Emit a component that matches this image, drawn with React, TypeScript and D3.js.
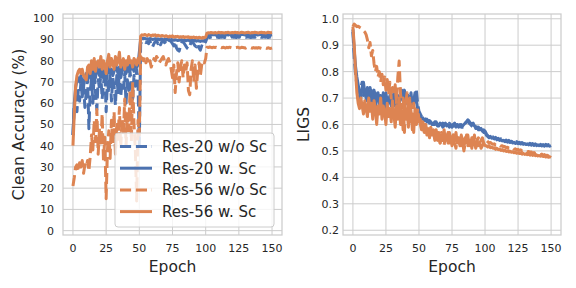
import React, { useEffect, useRef } from 'react';
import * as d3 from 'd3';

// legend names, in drawing order
const SERIES = ['Res-20 w/o Sc', 'Res-20 w. Sc', 'Res-56 w/o Sc', 'Res-56 w. Sc'];
const COLORS = ['#4c72b0', '#4c72b0', '#dd8452', '#dd8452'];
const DASHED = [true, false, true, false];

const EPOCH_TICKS = [0, 25, 50, 75, 100, 125, 150];
const ACC_TICKS = [0, 10, 20, 30, 40, 50, 60, 70, 80, 90, 100];
const LIGS_TICKS = [0.2, 0.3, 0.4, 0.5, 0.6, 0.7, 0.8, 0.9, 1.0];

// clean accuracy (%), one value per epoch 0..150
const ACC_R20_WO = [
  45, 60, 63, 56, 66, 61, 70, 63, 68, 58, 65,
  72, 48, 66, 71, 60, 74, 65, 57, 71, 67,
  73, 62, 69, 75, 56, 70, 66, 74, 61, 72,
  68, 59, 73, 65, 76, 63, 70, 67, 74, 60,
  71, 66, 75, 69, 62, 73, 68, 76, 70, 40,
  88, 89, 89.5, 89, 88.5, 89, 88, 89.5, 87, 86.5,
  88, 89, 89.5, 88, 89, 87.5, 89, 89.5, 88.5, 89,
  89, 88, 89.5, 89, 88, 87, 89, 86, 85, 84.5,
  87, 88.5, 89, 88, 87, 86, 85.5, 87, 88.5, 89,
  88, 87, 86.5, 88, 86, 85, 87, 86.5, 88, 89,
  91.0, 91.2, 90.9, 91.1, 91.3, 90.8, 91.0, 91.2, 91.1, 90.9,
  91.2, 91.0, 91.3, 90.9, 91.1, 91.0, 91.2, 90.8, 91.1, 91.3,
  91.0, 91.1, 90.9, 91.2, 91.0, 91.3, 91.1, 90.9, 91.2, 91.0,
  91.1, 91.3, 91.0, 90.9, 91.2, 91.1, 91.0, 91.3, 91.1, 90.9,
  91.2, 91.0, 91.1, 91.3, 91.0, 91.2, 90.9, 91.1, 91.2, 91.0,
];
const ACC_R20_W = [
  45, 60, 67, 71, 72, 70, 73, 70, 68, 72, 74,
  70, 75, 73, 71, 76, 74, 72, 77, 75, 73,
  78, 74, 72, 76, 70, 75, 78, 74, 76, 73,
  75, 79, 76, 74, 77, 72, 75, 78, 76, 74,
  77, 75, 79, 76, 78, 75, 80, 77, 78, 84,
  90, 90.5, 90.3, 90.6, 90.2, 90.4, 90.1, 90.5, 90.3, 90,
  90.2, 90.4, 90, 90.3, 89.9, 90.1, 90.3, 89.8, 90, 90.2,
  89.9, 90.1, 89.7, 90, 89.8, 89.6, 89.9, 89.7, 89.5, 89.8,
  89.6, 89.9, 89.5, 89.7, 89.4, 89.6, 89.8, 89.3, 89.5, 89.7,
  89.4, 89.6, 89.2, 89.5, 89.3, 89.1, 89.4, 89.2, 89.5, 89.3,
  92.1, 92.3, 92.2, 92.0, 92.3, 92.2, 92.4, 92.1, 92.2, 92.3,
  92.0, 92.2, 92.4, 92.1, 92.3, 92.2, 92.1, 92.4, 92.2, 92.3,
  92.1, 92.2, 92.4, 92.3, 92.1, 92.2, 92.3, 92.4, 92.2, 92.1,
  92.3, 92.2, 92.4, 92.1, 92.3, 92.2, 92.4, 92.3, 92.1, 92.2,
  92.4, 92.3, 92.2, 92.1, 92.3, 92.4, 92.2, 92.3, 92.1, 92.2,
];
const ACC_R56_WO = [
  21, 25, 30, 31, 28, 32, 29, 33, 27, 31, 30,
  33, 28, 35, 45, 38, 52, 42, 57, 36, 48,
  40, 55, 33, 44, 15, 38, 47, 34, 52, 41,
  56, 36, 50, 43, 58, 39, 53, 45, 62, 40,
  55, 47, 66, 42, 70, 50, 38, 14, 52, 45,
  82, 81, 80, 82, 79, 81, 78, 80, 77, 79,
  81, 80, 82, 81, 79, 80, 81, 82, 80, 78,
  80, 81, 79, 76, 72, 78, 65, 74, 79, 70,
  77, 80, 72, 78, 75, 79, 66, 64, 76, 80,
  70, 78, 67, 75, 79, 73, 78, 80, 79, 81,
  86.4, 86.2, 86.5, 86.3, 86.1, 86.4, 86.2, 86.3, 86.0, 86.2,
  86.4, 86.1, 86.3, 86.2, 86.0, 86.3, 86.1, 86.4, 86.2, 86.0,
  86.3, 86.1, 86.2, 86.4, 86.1, 86.0, 86.3, 86.2, 86.1, 85.9,
  86.2, 86.0, 86.3, 86.1, 85.9, 86.2, 86.0, 86.1, 85.9, 86.2,
  86.0, 85.8, 86.1, 85.9, 86.0, 85.8, 86.1, 85.9, 85.8, 86.0,
];
const ACC_R56_W = [
  40, 55, 68, 73, 75, 76, 74, 76, 73, 72, 71,
  77, 78, 74, 80, 76, 81, 75, 79, 80, 77,
  82, 76, 80, 78, 74, 80, 83, 77, 81, 79,
  76, 82, 78, 80, 84, 77, 79, 81, 76, 80,
  78, 82, 79, 80, 77, 81, 80, 78, 81, 79,
  91.5, 92.2, 92, 92.4, 92.1, 91.8, 92.3, 92, 91.7, 92.1,
  91.9, 92.2, 91.6, 92, 91.8, 91.5, 91.9, 91.7, 91.4, 91.8,
  91.5, 91.2, 91.6, 91.3, 91.7, 91.1, 91.4, 91.2, 91.5, 91,
  91.3, 91.1, 91.4, 90.9, 91.2, 91, 91.3, 90.8, 91.1, 90.9,
  91.2, 90.8, 91, 90.7, 91.1, 90.9, 90.6, 91, 90.8, 91.2,
  93.0, 93.2, 93.1, 93.3, 93.2, 93.0, 93.3, 93.1, 93.2, 93.4,
  93.1, 93.3, 93.2, 93.0, 93.3, 93.2, 93.4, 93.1, 93.2, 93.3,
  93.1, 93.4, 93.2, 93.3, 93.1, 93.2, 93.4, 93.3, 93.1, 93.2,
  93.3, 93.4, 93.2, 93.1, 93.3, 93.2, 93.4, 93.3, 93.2, 93.1,
  93.3, 93.4, 93.2, 93.3, 93.1, 93.2, 93.4, 93.3, 93.2, 93.3,
];

// LIGS, one value per epoch 0..150
const LIGS_R20_WO = [
  0.95, 0.85, 0.79, 0.75, 0.72, 0.7, 0.74, 0.76, 0.71, 0.73, 0.69,
  0.72, 0.7, 0.74, 0.68, 0.71, 0.73, 0.67, 0.7, 0.72, 0.68,
  0.71, 0.69, 0.66, 0.7, 0.72, 0.68, 0.7, 0.67, 0.71, 0.69,
  0.72, 0.68, 0.7, 0.66, 0.69, 0.71, 0.73, 0.7, 0.72, 0.69,
  0.71, 0.68, 0.7, 0.72, 0.67, 0.69, 0.71, 0.73, 0.68, 0.65,
  0.64, 0.63, 0.62, 0.625, 0.615, 0.62, 0.61, 0.615, 0.605, 0.61,
  0.6, 0.61, 0.605, 0.595, 0.6, 0.61, 0.6, 0.605, 0.595, 0.6,
  0.6, 0.59, 0.605, 0.595, 0.59, 0.6, 0.585, 0.595, 0.6, 0.59,
  0.595, 0.6, 0.59, 0.595, 0.605, 0.61, 0.615, 0.605, 0.6, 0.595,
  0.59, 0.6, 0.585, 0.59, 0.58, 0.585, 0.575, 0.58, 0.57, 0.575,
  0.565, 0.558, 0.553, 0.557, 0.55, 0.553, 0.547, 0.551, 0.545, 0.548,
  0.543, 0.546, 0.54, 0.544, 0.538, 0.541, 0.536, 0.54, 0.534, 0.537,
  0.533, 0.536, 0.531, 0.535, 0.529, 0.533, 0.528, 0.532, 0.527, 0.531,
  0.526, 0.53, 0.525, 0.529, 0.524, 0.528, 0.523, 0.527, 0.522, 0.526,
  0.522, 0.525, 0.521, 0.524, 0.52, 0.525, 0.521, 0.524, 0.52, 0.522,
];
const LIGS_R20_W = [
  0.96, 0.88, 0.82, 0.78, 0.75, 0.72, 0.7, 0.74, 0.76, 0.72, 0.7,
  0.74, 0.71, 0.69, 0.73, 0.7, 0.68, 0.72, 0.69, 0.71, 0.67,
  0.7, 0.68, 0.72, 0.69, 0.66, 0.7, 0.68, 0.71, 0.67, 0.69,
  0.7, 0.67, 0.69, 0.71, 0.68, 0.7, 0.72, 0.69, 0.73, 0.7,
  0.68, 0.71, 0.69, 0.67, 0.7, 0.68, 0.72, 0.69, 0.66, 0.64,
  0.63, 0.62, 0.625, 0.615, 0.62, 0.61, 0.615, 0.605, 0.61, 0.6,
  0.605, 0.6, 0.61, 0.6, 0.595, 0.605, 0.6, 0.59, 0.6, 0.605,
  0.595, 0.6, 0.59, 0.6, 0.595, 0.6, 0.605, 0.59, 0.6, 0.595,
  0.6, 0.59, 0.595, 0.6, 0.605, 0.61, 0.618, 0.612, 0.605, 0.6,
  0.605, 0.595, 0.59, 0.585, 0.59, 0.58, 0.585, 0.575, 0.58, 0.57,
  0.56, 0.555, 0.55, 0.555, 0.548, 0.55, 0.545, 0.548, 0.542, 0.545,
  0.54, 0.543, 0.538, 0.54, 0.535, 0.538, 0.533, 0.536, 0.532, 0.534,
  0.53, 0.533, 0.528, 0.532, 0.527, 0.53, 0.526, 0.529, 0.525, 0.528,
  0.524, 0.527, 0.523, 0.526, 0.522, 0.525, 0.521, 0.524, 0.52, 0.523,
  0.52, 0.522, 0.519, 0.521, 0.518, 0.522, 0.519, 0.521, 0.518, 0.52,
];
const LIGS_R56_WO = [
  0.97, 0.98, 0.975, 0.97, 0.972, 0.968, 0.965, 0.96, 0.955, 0.95, 0.94,
  0.92, 0.89, 0.91, 0.86, 0.88, 0.83, 0.8, 0.82, 0.78, 0.8,
  0.76, 0.79, 0.75, 0.78, 0.73, 0.77, 0.72, 0.76, 0.7, 0.74,
  0.71, 0.75, 0.68, 0.78, 0.84, 0.72, 0.66, 0.7, 0.57, 0.68,
  0.72, 0.62, 0.7, 0.65, 0.58, 0.68, 0.63, 0.6, 0.66, 0.62,
  0.62, 0.59, 0.61, 0.58, 0.6, 0.57, 0.59, 0.56, 0.58, 0.57,
  0.58, 0.55, 0.57, 0.54, 0.56, 0.53, 0.57, 0.55, 0.52, 0.56,
  0.54, 0.57, 0.53, 0.55, 0.52, 0.56, 0.53, 0.51, 0.55, 0.53,
  0.55, 0.52, 0.54, 0.5, 0.53, 0.56, 0.52, 0.54, 0.51, 0.55,
  0.53, 0.56, 0.52, 0.54, 0.55, 0.53, 0.54, 0.55, 0.53, 0.54,
  0.54, 0.535, 0.53, 0.532, 0.528, 0.525, 0.527, 0.522, 0.524, 0.52,
  0.522, 0.518, 0.52, 0.515, 0.517, 0.512, 0.514, 0.51, 0.512, 0.508,
  0.51, 0.506, 0.508, 0.504, 0.506, 0.502, 0.504, 0.5, 0.502, 0.498,
  0.5, 0.496, 0.498, 0.494, 0.496, 0.492, 0.494, 0.49, 0.492, 0.488,
  0.49, 0.486, 0.488, 0.484, 0.486, 0.482, 0.484, 0.48, 0.482, 0.478,
];
const LIGS_R56_W = [
  0.97, 0.9, 0.8, 0.72, 0.68, 0.66, 0.7, 0.67, 0.64, 0.69, 0.66,
  0.63, 0.7, 0.65, 0.68, 0.62, 0.69, 0.66, 0.6, 0.67, 0.64,
  0.7, 0.62, 0.67, 0.65, 0.6, 0.68, 0.63, 0.66, 0.61, 0.69,
  0.64, 0.59, 0.67, 0.62, 0.7, 0.6, 0.65, 0.58, 0.68, 0.62,
  0.66, 0.59, 0.69, 0.61, 0.64, 0.57, 0.66, 0.6, 0.63, 0.62,
  0.6, 0.58, 0.59, 0.57, 0.6, 0.56, 0.58, 0.55, 0.59, 0.56,
  0.57, 0.54, 0.58, 0.55, 0.57, 0.53, 0.56, 0.55, 0.58, 0.54,
  0.56, 0.53, 0.57, 0.55, 0.52, 0.56, 0.54, 0.57, 0.53, 0.55,
  0.52, 0.56, 0.54, 0.51, 0.55, 0.53, 0.56, 0.52, 0.54, 0.51,
  0.55, 0.53, 0.51, 0.54, 0.52, 0.53, 0.51, 0.52, 0.53, 0.52,
  0.52, 0.515, 0.52, 0.512, 0.515, 0.51, 0.512, 0.506, 0.51, 0.505,
  0.507, 0.502, 0.505, 0.5, 0.503, 0.498, 0.501, 0.496, 0.499, 0.495,
  0.497, 0.493, 0.496, 0.491, 0.494, 0.49, 0.492, 0.488, 0.491, 0.487,
  0.489, 0.486, 0.488, 0.484, 0.487, 0.483, 0.486, 0.482, 0.485, 0.481,
  0.483, 0.48, 0.482, 0.479, 0.481, 0.477, 0.48, 0.476, 0.478, 0.475,
];

const GRID = '#cccccc';
const TEXT = '#262626';
const FONT = 'DejaVu Sans, sans-serif';

function drawPanel(svg, opts) {
  const { left, right, top, bottom, yDomain, yTicks, yFmt, series, yLabel, yLabelX, tickGap, id } = opts;

  const x = d3.scaleLinear().domain([-7.5, 157.5]).range([left, right]);
  const y = d3.scaleLinear().domain(yDomain).range([bottom, top]);

  const g = svg.append('g');

  // grid
  g.selectAll('line.gx').data(EPOCH_TICKS).enter().append('line')
    .attr('x1', d => x(d)).attr('x2', d => x(d))
    .attr('y1', top).attr('y2', bottom)
    .attr('stroke', GRID).attr('stroke-width', 1);
  g.selectAll('line.gy').data(yTicks).enter().append('line')
    .attr('x1', left).attr('x2', right)
    .attr('y1', d => y(d)).attr('y2', d => y(d))
    .attr('stroke', GRID).attr('stroke-width', 1);

  // tick labels
  g.selectAll('text.tx').data(EPOCH_TICKS).enter().append('text')
    .attr('x', d => x(d)).attr('y', bottom + 17)
    .attr('text-anchor', 'middle')
    .style('font-size', '11px').style('font-family', FONT).attr('fill', TEXT)
    .text(d => d);
  g.selectAll('text.ty').data(yTicks).enter().append('text')
    .attr('x', left - tickGap).attr('y', d => y(d) + 4)
    .attr('text-anchor', 'end')
    .style('font-size', '11px').style('font-family', FONT).attr('fill', TEXT)
    .text(yFmt);

  // clip for lines
  svg.append('clipPath').attr('id', id)
    .append('rect').attr('x', left).attr('y', top)
    .attr('width', right - left).attr('height', bottom - top);

  const line = d3.line().x((d, i) => x(i)).y(d => y(d));

  const lines = g.append('g').attr('clip-path', `url(#${id})`);
  series.forEach((vals, k) => {
    lines.append('path')
      .datum(vals)
      .attr('d', line)
      .attr('fill', 'none')
      .attr('stroke', COLORS[k])
      .attr('stroke-width', 3)
      .attr('stroke-linejoin', 'round')
      .attr('stroke-dasharray', DASHED[k] ? '11.1,4.8' : null);
  });

  // frame
  g.append('rect')
    .attr('x', left).attr('y', top)
    .attr('width', right - left).attr('height', bottom - top)
    .attr('fill', 'none').attr('stroke', GRID).attr('stroke-width', 1.25);

  // axis labels
  g.append('text')
    .attr('x', (left + right) / 2).attr('y', bottom + 37)
    .attr('text-anchor', 'middle')
    .style('font-size', '15.5px').style('font-family', FONT).attr('fill', TEXT)
    .text('Epoch');
  g.append('text')
    .attr('transform', `translate(${yLabelX},${(top + bottom) / 2})rotate(-90)`)
    .attr('text-anchor', 'middle')
    .style('font-size', '15.5px').style('font-family', FONT).attr('fill', TEXT)
    .text(yLabel);

  return g;
}

export default function App() {
  const svgRef = useRef(null);

  useEffect(() => {
    const svg = d3.select(svgRef.current);
    svg.selectAll('*').remove();

    drawPanel(svg, {
      id: 'clip-acc',
      left: 63, right: 282, top: 14, bottom: 235,
      yDomain: [-2.05, 102], yTicks: ACC_TICKS, yFmt: d => d,
      series: [ACC_R20_WO, ACC_R20_W, ACC_R56_WO, ACC_R56_W],
      yLabel: 'Clean Accuracy (%)', yLabelX: 24, tickGap: 9,
    });

    drawPanel(svg, {
      id: 'clip-ligs',
      left: 343, right: 561, top: 14, bottom: 235,
      yDomain: [0.182, 1.018], yTicks: LIGS_TICKS, yFmt: d => d.toFixed(1),
      series: [LIGS_R20_WO, LIGS_R20_W, LIGS_R56_WO, LIGS_R56_W],
      yLabel: 'LIGS', yLabelX: 309, tickGap: 4,
    });

    // legend
    const legend = svg.append('g');
    legend.append('rect')
      .attr('x', 115).attr('y', 133).attr('width', 159).attr('height', 94)
      .attr('rx', 3)
      .attr('fill', 'white').attr('fill-opacity', 0.8)
      .attr('stroke', GRID).attr('stroke-width', 1);

    SERIES.forEach((name, k) => {
      const cy = 146.5 + k * 21.7;
      legend.append('line')
        .attr('x1', 120).attr('x2', 152).attr('y1', cy).attr('y2', cy)
        .attr('stroke', COLORS[k]).attr('stroke-width', 3)
        .attr('stroke-dasharray', DASHED[k] ? '11.1,4.8' : null);
      legend.append('text')
        .attr('x', 162).attr('y', cy + 5.5)
        .style('font-size', '15px').style('font-family', FONT).attr('fill', TEXT)
        .text(name);
    });
  }, []);

  return (
    <div>
      <svg ref={svgRef} width={576} height={288}
        style={{ position: 'absolute', left: 0, top: 0, background: 'white' }} />
    </div>
  );
}
